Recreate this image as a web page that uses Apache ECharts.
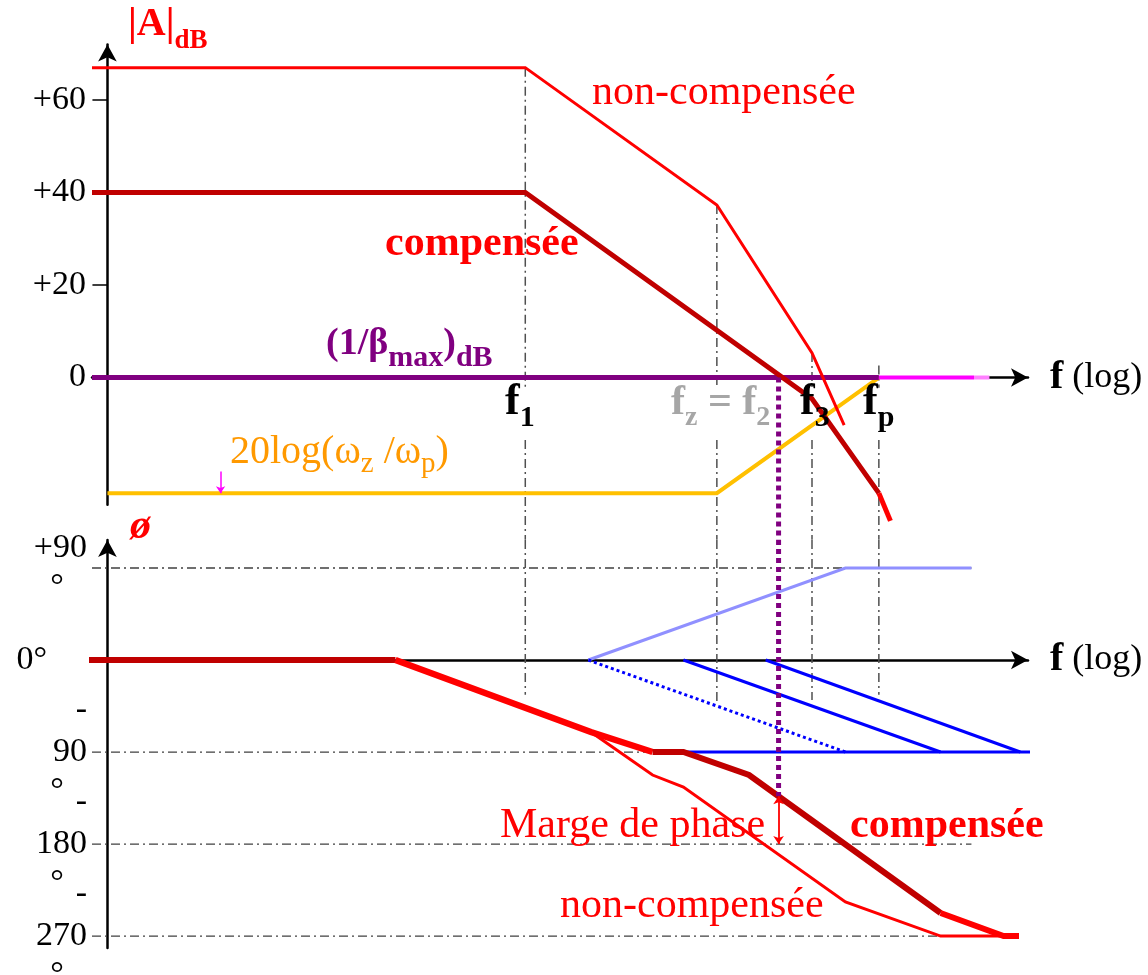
<!DOCTYPE html>
<html>
<head>
<meta charset="utf-8">
<script src="https://cdn.jsdelivr.net/npm/echarts@6/dist/echarts.min.js"></script>
<style>
  html, body { margin: 0; padding: 0; background: #ffffff; }
  #chart { width: 1148px; height: 975px; }
</style>
</head>
<body>
<div id="chart"></div>
<script>
// ---- Frequency axis: decades (log10 f), origin on the vertical axes ----
const xStart = -0.12;
const f1 = 3.25, fz = 4.74, f3 = 5.48, fp = 6.0;
const fCross = 5.22;            // 0 dB crossing of the compensated gain

// ---- Gain (dB) ----
const gainNonComp   = [[-0.12, 67], [3.25, 67], [4.74, 37.3], [5.48, 5.3], [5.73, -10.3]];
const gainComp      = [[-0.12, 40], [3.25, 40], [4.74, 10.2], [5.48, -4.6], [6.0, -25]];
const gainCompTail  = [[6.0, -25], [6.09, -31]];
const invBeta       = [[-0.12, 0], [6.0, 0]];
const invBetaExt    = [[6.0, 0], [6.74, 0]];
const invBetaFade   = [[6.74, 0], [6.86, 0]];
const zeroPoleGain  = [[0, -25], [4.74, -25], [6.0, 0]];
const zeroPoleMark  = [[0.88, -20.3], [0.88, -25]];
const gainTicks      = [0, 20, 40, 60];
const gainTickLabels = ['0', '+20', '+40', '+60'];

// ---- Phase (degrees) ----
const phaseCompStart = [[-0.23, 0], [2.24, 0]];
const phaseShared    = [[2.24, 0], [3.76, -70.4], [4.24, -90]];
const phaseCompMid   = [[4.24, -90], [4.48, -90], [4.99, -112.5], [6.48, -247.5]];
const phaseCompEnd   = [[6.48, -247.5], [6.97, -270], [7.09, -270]];
const phaseNonComp   = [[3.76, -70.4], [4.24, -112.5], [4.48, -124.2], [5.74, -236.7], [6.48, -270], [7.09, -270]];
const phaseZero      = [[3.74, 0], [5.74, 90], [6.72, 90]];
const phasePole2     = [[3.74, 0], [5.74, -90]];
const phasePole3     = [[4.48, 0], [6.48, -90]];
const phasePoleP     = [[5.12, 0], [7.1, -90]];
const phaseFloor     = [[4.48, -90], [7.22, -90]];
const phaseMargin    = [[5.22, -133.2], [5.22, -180]];
const phaseTicks     = [90, 0, -90, -180, -270];
const phaseTickText  = { '90': '+90', '0': '0°', '-90': '90', '-180': '180', '-270': '270' };
const phaseMinusAt   = [-90, -180, -270];        // a "-" line above these tick labels
const phaseDegreeAt  = [90, -90, -180, -270];    // a "°" line below these tick labels
const phaseGridEnds  = [6.72, 4.48, 6.72, 7.0];  // right ends of +90, -90, -180, -270 guides

// ---- Vertical guides at the corner frequencies ----
const guideFreqs    = [f1, fz, f3, fp];
const guideGainTop  = [67, 37.3, 5.3, 2.6];
const guideGainGap  = [-2.2, -13.5];
const guidePhaseEnd = [-34, -42, -39, -34];

const FONT = "'Liberation Serif', 'Times New Roman', serif";
const RED = '#ff0000', DARK = '#c00000', PURPLE = '#800080';
const DASHDOT = [9, 4, 2, 4];

const xMin = xStart, xMax = 7.16;
const gainMin = -27.5, gainMax = 72;
const phaseMin = -281.7, phaseMax = 117.4;

function poly(data, color, width, grid, extra) {
  return Object.assign({
    type: 'line', data: data, xAxisIndex: grid, yAxisIndex: grid,
    symbol: 'none', clip: false, silent: true, animation: false,
    lineStyle: { color: color, width: width, cap: 'butt', join: 'miter' }, z: 3
  }, extra || {});
}
function dashed(data, color, width, grid, dash, z) {
  return poly(data, color, width, grid, {
    lineStyle: { color: color, width: width, type: dash, cap: 'butt' }, z: z || 2
  });
}

const series = [];

// gain panel guides
guideFreqs.forEach(function (f, i) {
  series.push(dashed([[f, guideGainTop[i]], [f, guideGainGap[0]]], '#505050', 1.5, 0, DASHDOT));
  series.push(dashed([[f, guideGainGap[1]], [f, -35.1]], '#505050', 1.5, 0, DASHDOT));
  series.push(dashed([[f, phaseMax], [f, guidePhaseEnd[i]]], '#505050', 1.5, 1, DASHDOT));
});
// phase panel horizontal guides
[90, -90, -180, -270].forEach(function (v, i) {
  series.push(dashed([[xStart, v], [phaseGridEnds[i], v]], '#404040', 1.3, 1, DASHDOT));
});

// gain curves
series.push(poly(zeroPoleGain, '#ffc000', 4, 0));
series.push(poly(invBeta, PURPLE, 5, 0, { z: 4 }));
series.push(poly(invBetaExt, '#ff00ff', 4, 0, { z: 4 }));
series.push(poly(invBetaFade, '#ff80ff', 4, 0, { z: 4 }));
series.push(poly(gainNonComp, RED, 3, 0, { z: 5 }));
series.push(poly(gainComp, DARK, 5, 0, { z: 6 }));
series.push(poly(gainCompTail, RED, 5, 0, { z: 6 }));

// phase asymptotes of the individual terms
series.push(poly(phaseZero, '#9090ff', 3, 1));
series.push(dashed(phasePole2, '#0000ff', 3, 1, [3, 3], 3));
series.push(poly(phasePole3, '#0000ff', 3, 1));
series.push(poly(phasePoleP, '#0000ff', 3, 1));
series.push(poly(phaseFloor, '#0000ff', 3, 1));

// phase curves
series.push(poly(phaseNonComp, RED, 3, 1, { z: 5 }));
series.push(poly(phaseCompStart, DARK, 6, 1, { z: 6 }));
series.push(poly(phaseShared, RED, 6.5, 1, { z: 6 }));
series.push(poly(phaseCompMid, DARK, 6, 1, { z: 6 }));
series.push(poly(phaseCompEnd, RED, 6, 1, { z: 6 }));

// crossover frequency marker
series.push(dashed([[fCross, 0], [fCross, -35.1]], PURPLE, 5, 0, [5, 4], 7));
series.push(dashed([[fCross, phaseMax], [fCross, -133.2]], PURPLE, 5, 1, [5, 4], 7));

// arrows
series.push({
  type: 'lines', coordinateSystem: 'cartesian2d', xAxisIndex: 0, yAxisIndex: 0,
  silent: true, animation: false, z: 8,
  symbol: ['none', 'arrow'], symbolSize: 7,
  lineStyle: { color: '#ff00ff', width: 1.5, opacity: 1 },
  data: [{ coords: zeroPoleMark }]
});
series.push({
  type: 'lines', coordinateSystem: 'cartesian2d', xAxisIndex: 1, yAxisIndex: 1,
  silent: true, animation: false, z: 8,
  symbol: ['arrow', 'arrow'], symbolSize: 8,
  lineStyle: { color: RED, width: 1.8, opacity: 1 },
  data: [{ coords: phaseMargin }]
});

function xAxisCfg(grid) {
  return {
    gridIndex: grid, type: 'value', min: xMin, max: xMax,
    axisLine: { onZero: true, symbol: ['none', 'arrow'], symbolSize: [14, 17],
                lineStyle: { color: '#000', width: 2.5 } },
    axisTick: { show: false }, axisLabel: { show: false }, splitLine: { show: false },
    name: '{b|f}{r| (log)}', nameLocation: 'end', nameGap: 22,
    nameTextStyle: {
      rich: {
        b: { fontFamily: FONT, fontSize: 40, fontWeight: 'bold', color: '#000' },
        r: { fontFamily: FONT, fontSize: 36, color: '#000' }
      }
    }
  };
}

// rich text with subscripts; cy = vertical centre of the main glyphs
function richText(x, cy, parts, o) {
  const F = o.size, S = o.sub;
  const L = Math.round(F * 1.2), Ls = Math.round(S * 1.2);
  const P = Math.round(L / 2 + o.drop - Ls / 2);
  const text = parts.map(function (p) { return '{' + (p[1] ? 's' : 'm') + '|' + p[0] + '}'; }).join('');
  return {
    type: 'text', x: x, y: cy - L / 2, silent: true, z: 20,
    style: {
      text: text, fill: o.color, align: 'left', verticalAlign: 'top',
      rich: {
        m: { fontSize: F, lineHeight: L, fontFamily: FONT, fontWeight: o.weight || 'normal',
             fontStyle: o.italic ? 'italic' : 'normal', verticalAlign: 'middle', fill: o.color },
        s: { fontSize: S, lineHeight: Ls, height: Ls, fontFamily: FONT, fontWeight: o.weight || 'normal',
             verticalAlign: 'top', padding: [P, 0, 0, 0], fill: o.color }
      }
    }
  };
}
function plainText(x, cy, str, size, color, weight, italic, align) {
  return {
    type: 'text', x: x, y: cy, silent: true, z: 20,
    style: {
      text: str, fill: color, align: align || 'left', verticalAlign: 'middle',
      fontFamily: FONT, fontSize: size, fontWeight: weight || 'normal',
      fontStyle: italic ? 'italic' : 'normal'
    }
  };
}

const fLab = { size: 44, sub: 30, drop: 15, weight: 'bold', color: '#000' };
const graphics = [
  richText(128, 25, [['|A|', 0], ['dB', 1]], { size: 40, sub: 27, drop: 16, weight: 'bold', color: RED }),
  plainText(130, 527, 'ø', 42, RED, 'bold', true),
  plainText(592, 93, 'non-compensée', 42, RED),
  plainText(385, 244, 'compensée', 42, RED, 'bold'),
  richText(326, 344, [['(1/β', 0], ['max', 1], [')', 0], ['dB', 1]], { size: 38, sub: 30, drop: 14, weight: 'bold', color: PURPLE }),
  richText(230, 452, [['20log(ω', 0], ['z', 1], [' /ω', 0], ['p', 1], [')', 0]], { size: 40, sub: 29, drop: 12, color: '#ff9900' }),
  richText(505, 403, [['f', 0], ['1', 1]], fLab),
  richText(671, 403, [['f', 0], ['z', 1], [' = f', 0], ['2', 1]], { size: 42, sub: 28, drop: 15, weight: 'bold', color: '#a6a6a6' }),
  richText(800, 403, [['f', 0], ['3', 1]], fLab),
  richText(863, 403, [['f', 0], ['p', 1]], fLab),
  plainText(500, 826, 'Marge de phase', 42, RED),
  plainText(850, 826, 'compensée', 42, RED, 'bold'),
  plainText(560, 906, 'non-compensée', 42, RED)
];

const option = {
  backgroundColor: '#ffffff',
  animation: false,
  grid: [
    { left: 92, right: 120, top: 44.5, height: 460.2, containLabel: false, outerBoundsMode: 'none' },
    { left: 92, right: 120, top: 540, height: 408, containLabel: false, outerBoundsMode: 'none' }
  ],
  xAxis: [xAxisCfg(0), xAxisCfg(1)],
  yAxis: [
    {
      gridIndex: 0, type: 'value', min: gainMin, max: gainMax,
      axisLine: { onZero: true, symbol: ['none', 'arrow'], symbolSize: [14, 17],
                  lineStyle: { color: '#000', width: 2.5 } },
      axisTick: { show: true, customValues: gainTicks, length: 15, inside: false,
                  lineStyle: { color: '#000', width: 1.5 } },
      axisLabel: {
        customValues: gainTicks, margin: 6, fontFamily: FONT, fontSize: 34, color: '#000',
        showMinLabel: true, showMaxLabel: true,
        formatter: function (v) { return gainTickLabels[gainTicks.indexOf(v)]; }
      },
      splitLine: { show: false }
    },
    {
      gridIndex: 1, type: 'value', min: phaseMin, max: phaseMax,
      axisLine: { onZero: true, symbol: ['none', 'arrow'], symbolSize: [14, 17],
                  lineStyle: { color: '#000', width: 2.5 } },
      axisTick: { show: false },
      axisLabel: {
        customValues: phaseTicks, margin: 5, fontFamily: FONT, fontSize: 34, color: '#000',
        lineHeight: 39, showMinLabel: true, showMaxLabel: true,
        formatter: function (v) {
          const t = phaseTickText[String(v)];
          return v === 0 ? '{z|' + t + '}' : v > 0 ? '{u|' + t + '}' : '{n|' + t + '}';
        },
        rich: {
          n: { fontFamily: FONT, fontSize: 34, lineHeight: 39, color: '#000' },
          u: { fontFamily: FONT, fontSize: 34, lineHeight: 39, color: '#000', padding: [0, 0, 39, 0] },
          z: { fontFamily: FONT, fontSize: 34, lineHeight: 39, color: '#000', padding: [0, 40, 0, 0] }
        }
      },
      splitLine: { show: false }
    }
  ],
  series: series,
  graphic: graphics
};

const chart = echarts.init(document.getElementById('chart'), null, { renderer: 'canvas' });
chart.setOption(option);

// wrapped pieces of the phase tick labels ("-" above, "°" below), placed on the phase axis scale
const extra = [];
phaseMinusAt.forEach(function (v) {
  const y = chart.convertToPixel({ yAxisIndex: 1 }, v);
  extra.push(plainText(87, y - 42, '-', 34, '#000', 'normal', false, 'right'));
});
phaseDegreeAt.forEach(function (v) {
  const y = chart.convertToPixel({ yAxisIndex: 1 }, v);
  extra.push(plainText(57, y + (v > 0 ? 19 : 39), '°', 34, '#000', 'normal', false, 'center'));
});
chart.setOption({ graphic: graphics.concat(extra) });
</script>
</body>
</html>
